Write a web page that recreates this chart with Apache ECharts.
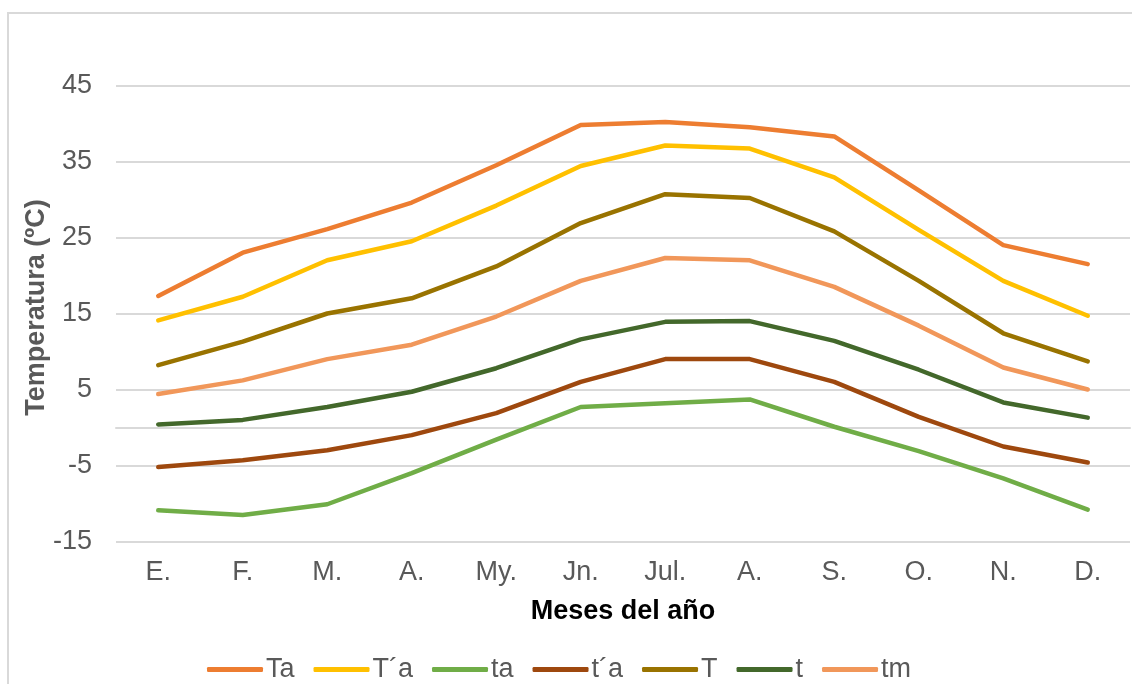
<!DOCTYPE html>
<html>
<head>
<meta charset="utf-8">
<script src="https://cdn.jsdelivr.net/npm/echarts@6/dist/echarts.min.js"></script>
<style>
  html, body { margin: 0; padding: 0; background: #fff; }
  #chart { width: 1132px; height: 684px; }
</style>
</head>
<body>
<div id="chart"></div>
<script>
// Monthly temperature curves (ºC)
const months = ['E.', 'F.', 'M.', 'A.', 'My.', 'Jn.', 'Jul.', 'A.', 'S.', 'O.', 'N.', 'D.'];

const Ta  = [17.3, 23.0, 26.1, 29.6, 34.5, 39.8, 40.2, 39.5, 38.3, 31.2, 24.0, 21.5];
const Tpa = [14.1, 17.2, 22.0, 24.5, 29.2, 34.4, 37.1, 36.7, 32.9, 26.0, 19.3, 14.7];
const ta  = [-10.9, -11.5, -10.1, -6.0, -1.6, 2.7, 3.2, 3.7, 0.1, -3.1, -6.7, -10.8];
const tpa = [-5.2, -4.3, -3.0, -1.0, 1.9, 6.0, 9.0, 9.0, 6.0, 1.4, -2.5, -4.6];
const T   = [8.2, 11.3, 15.0, 17.0, 21.2, 26.9, 30.7, 30.2, 25.8, 19.3, 12.4, 8.7];
const t   = [0.4, 1.0, 2.7, 4.7, 7.8, 11.6, 13.9, 14.0, 11.4, 7.6, 3.3, 1.3];
const tm  = [4.4, 6.2, 9.0, 10.9, 14.6, 19.3, 22.3, 22.0, 18.5, 13.4, 7.9, 5.0];

const seriesNames  = ['Ta', 'T\u00B4a', 'ta', 't\u00B4a', 'T', 't', 'tm'];
const seriesValues = [Ta, Tpa, ta, tpa, T, t, tm];
const seriesColors = ['#ED7D31', '#FFC000', '#70AD47', '#9E480E', '#997300', '#43682B', '#F1975A'];

const yMin = -15, yMax = 45, yStep = 10;

const FONT = '"Liberation Sans", Arial, sans-serif';
const TEXT = '#595959';
const GRID = '#D9D9D9';

const chart = echarts.init(document.getElementById('chart'), null, { renderer: 'canvas' });

chart.setOption({
  animation: false,
  backgroundColor: '#fff',
  textStyle: { fontFamily: FONT },
  graphic: [{
    type: 'rect',
    shape: { x: 8, y: 13, width: 1200, height: 800 },
    style: { fill: 'none', stroke: GRID, lineWidth: 2 },
    silent: true
  }],
  grid: { left: 116, right: 2, top: 85.5, bottom: 142.5 },
  legend: {
    data: seriesNames,
    left: 202,
    top: 651,
    icon: 'roundRect',
    itemWidth: 56,
    itemHeight: 5,
    itemGap: 19,
    textStyle: { color: TEXT, fontSize: 27, fontFamily: FONT, padding: [0, 0, 0, -2] }
  },
  xAxis: [{
    type: 'category',
    data: months,
    boundaryGap: true,
    name: 'Meses del año',
    nameLocation: 'middle',
    nameGap: 57,
    nameTextStyle: { color: '#000000', fontSize: 27, fontWeight: 'bold', fontFamily: FONT },
    axisLine: { show: false, onZero: false },
    axisTick: { show: false },
    axisLabel: { color: TEXT, fontSize: 27, fontFamily: FONT, margin: 18 },
    splitLine: { show: false }
  }, {
    // horizontal axis line crossing at 0
    type: 'category',
    data: months,
    position: 'bottom',
    axisLine: { show: true, onZero: true, onZeroAxisIndex: 0, lineStyle: { color: GRID, width: 2 } },
    axisTick: { show: false },
    axisLabel: { show: false },
    splitLine: { show: false }
  }],
  yAxis: {
    type: 'value',
    min: yMin,
    max: yMax,
    interval: yStep,
    name: 'Temperatura (ºC)',
    nameLocation: 'middle',
    nameRotate: 90,
    nameGap: 66,
    nameMoveOverlap: false,
    nameTextStyle: { color: TEXT, fontSize: 27, fontWeight: 'bold', fontFamily: FONT, padding: [0, 0, 0, 12] },
    axisLine: { show: false },
    axisTick: { show: false },
    axisLabel: { color: TEXT, fontSize: 27, fontFamily: FONT, margin: 24 },
    splitLine: { show: true, lineStyle: { color: GRID, width: 2 } }
  },
  series: seriesNames.map((name, i) => ({
    name: name,
    type: 'line',
    data: seriesValues[i],
    xAxisIndex: 0,
    symbol: 'none',
    smooth: false,
    color: seriesColors[i],
    lineStyle: { color: seriesColors[i], width: 4.5, cap: 'round', join: 'round' }
  }))
});
</script>
</body>
</html>
